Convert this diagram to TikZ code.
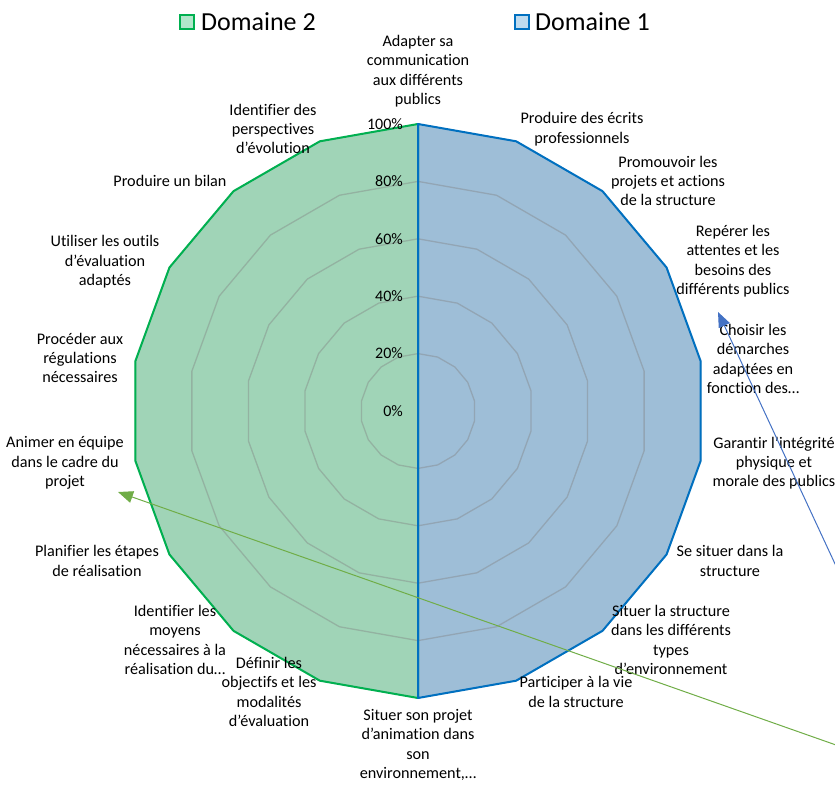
\documentclass[tikz,border=0pt]{standalone}
\usepackage{fontspec}
\setmainfont{Carlito}[Ligatures=NoCommon]
\usepackage{xcolor}
\usepackage{tikz}
\usetikzlibrary{arrows.meta}
\usetikzlibrary{calc}

\definecolor{domA}{RGB}{0,112,192}
\definecolor{domAfill}{RGB}{158,190,215}
\definecolor{domB}{RGB}{0,176,80}
\definecolor{domBfill}{RGB}{160,212,183}
\definecolor{arrA}{RGB}{68,114,196}
\definecolor{arrB}{RGB}{112,173,71}

\tikzset{
  axlabel/.style={align=center, font=\fontsize{16.2}{19.4}\selectfont, inner sep=0pt},
  pct/.style={anchor=east, font=\fontsize{16}{17}\selectfont, inner sep=0pt},
  gridline/.style={draw=gray, line width=1.3pt, opacity=0.4},
  legendbox/.style={minimum size=14pt, inner sep=0pt, line width=1.6pt},
}

\begin{document}
\begin{tikzpicture}[x=1pt, y=-1pt]
  \useasboundingbox (0,0) rectangle (835,789);

  % vertices of the chart
  \foreach \i in {0,...,17}
    \coordinate (v\i) at ({418+287*sin(20*\i)},{411-287*cos(20*\i)});

  % series
  \fill[domBfill] (v9) -- (v10) -- (v11) -- (v12) -- (v13) -- (v14) -- (v15) -- (v16) -- (v17) -- (v0) -- cycle;
  \fill[domAfill] (v0) -- (v1) -- (v2) -- (v3) -- (v4) -- (v5) -- (v6) -- (v7) -- (v8) -- (v9) -- cycle;

  % grid
  \foreach \r in {57.4,114.8,172.2,229.6,287}
    \draw[gridline] (418,{411-\r}) \foreach \i in {1,...,17} {-- ({418+\r*sin(20*\i)},{411-\r*cos(20*\i)})} -- cycle;

  \draw[domB, line width=2pt, line join=round] (v9) -- (v10) -- (v11) -- (v12) -- (v13) -- (v14) -- (v15) -- (v16) -- (v17) -- (v0) -- cycle;
  \draw[domA, line width=2pt, line join=round] (v0) -- (v1) -- (v2) -- (v3) -- (v4) -- (v5) -- (v6) -- (v7) -- (v8) -- (v9) -- cycle;

  % percentages
  \foreach \p [count=\k from 0] in {0,20,40,60,80,100}
    \node[pct] (p\p) at (403,{411-57.4*\k}) {\p\%};

  % axis labels
  \node[axlabel] (l0) at (418,71) {Adapter sa\\communication\\aux différents\\publics};
  \node[axlabel] (l1) at (582,129) {Produire des écrits\\professionnels};
  \node[axlabel] (l2) at (668,181) {Promouvoir les\\projets et actions\\de la structure};
  \node[axlabel] (l3) at (733,261) {Repérer les\\attentes et les\\besoins des\\différents publics};
  \node[axlabel] (l4) at (753,359) {Choisir les\\démarches\\adaptées en\\fonction des…};
  \node[axlabel] (l5) at (774,463) {Garantir l'intégrité\\physique et\\morale des publics};
  \node[axlabel] (l6) at (730,561) {Se situer dans la\\structure};
  \node[axlabel] (l7) at (671,640) {Situer la structure\\dans les différents\\types\\d’environnement};
  \node[axlabel] (l8) at (576,692) {Participer à la vie\\de la structure};
  \node[axlabel] (l9) at (418,745) {Situer son projet\\d’animation dans\\son\\environnement,…};
  \node[axlabel] (l10) at (269,692) {Définir les\\objectifs et les\\modalités\\d’évaluation};
  \node[axlabel] (l11) at (175,640) {Identifier les\\moyens\\nécessaires à la\\réalisation du…};
  \node[axlabel] (l12) at (97,561) {Planifier les étapes\\de réalisation};
  \node[axlabel] (l13) at (65,463) {Animer en équipe\\dans le cadre du\\projet};
  \node[axlabel] (l14) at (80,358) {Procéder aux\\régulations\\nécessaires};
  \node[axlabel] (l15) at (105,262) {Utiliser les outils\\d’évaluation\\adaptés};
  \node[axlabel] (l16) at (170,181) {Produire un bilan};
  \node[axlabel] (l17) at (273,129) {Identifier des\\perspectives\\d'évolution};

  % legend
  \node[legendbox, draw=domB, fill=domB!30] (kB) at (187,22) {};
  \node[anchor=west, font=\fontsize{26}{28}\selectfont, inner sep=0pt] (tB) at (201,22) {Domaine 2};
  \node[legendbox, draw=domA, fill=domA!25] (kA) at (522,22) {};
  \node[anchor=west, font=\fontsize{26}{28}\selectfont, inner sep=0pt] (tA) at (535,22) {Domaine 1};

  % stray arrows
  \coordinate (aA) at (836,566);
  \coordinate (hA) at (718,312);
  \coordinate (aB) at (836,745);
  \coordinate (hB) at (118,492);
  \draw[arrA, line width=1pt, -{Triangle[length=15pt, width=12pt]}] (aA) -- (hA);
  \draw[arrB, line width=1pt, -{Triangle[length=15pt, width=12pt]}] (aB) -- (hB);
\end{tikzpicture}
\end{document}
